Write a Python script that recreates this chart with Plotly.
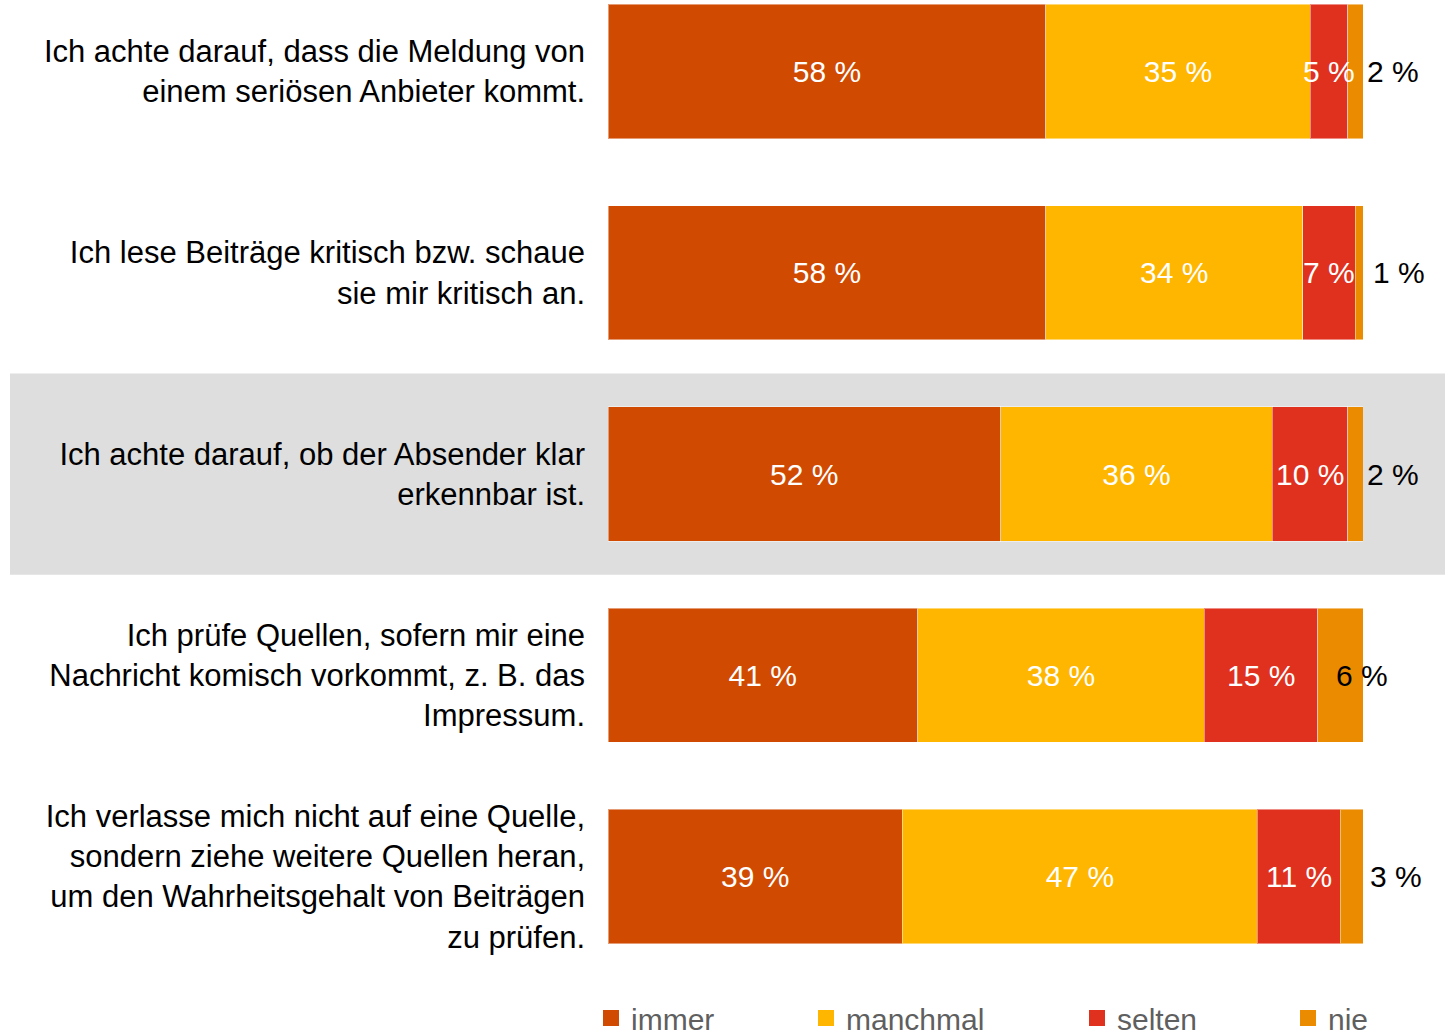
import plotly.graph_objects as go

# ---- data ----
categories = [
    "Ich achte darauf, dass die Meldung von<br>einem seriösen Anbieter kommt.",
    "Ich lese Beiträge kritisch bzw. schaue<br>sie mir kritisch an.",
    "Ich achte darauf, ob der Absender klar<br>erkennbar ist.",
    "Ich prüfe Quellen, sofern mir eine<br>Nachricht komisch vorkommt, z. B. das<br>Impressum.",
    "Ich verlasse mich nicht auf eine Quelle,<br>sondern ziehe weitere Quellen heran,<br>um den Wahrheitsgehalt von Beiträgen<br>zu prüfen.",
]
series_names = ["immer", "manchmal", "selten", "nie"]
immer = [58, 58, 52, 41, 39]
manchmal = [35, 34, 36, 38, 47]
selten = [5, 7, 10, 15, 11]
nie = [2, 1, 2, 6, 3]

# ---- style ----
colors = ["#D04A02", "#FFB600", "#E0301E", "#EB8C00"]
font_family = "Liberation Sans, Arial, sans-serif"
nie_label_shift = [2, 8, 2, -29, 5]
highlight_row = 2

positions = list(range(len(categories)))
values = [immer, manchmal, selten, nie]

fig = go.Figure()
legend_ids = ["legend", "legend2", "legend3", "legend4"]
for i, (name, vals) in enumerate(zip(series_names, values)):
    show_text = name in ("immer", "manchmal")
    fig.add_trace(go.Bar(
        y=positions, x=vals, name=name, orientation="h",
        marker=dict(color=colors[i], line=dict(color="rgba(255,255,255,0.45)", width=1)),
        width=0.666,
        text=[f"{v} %" for v in vals] if show_text else None,
        textposition="inside" if show_text else "none",
        insidetextanchor="middle",
        constraintext="none",
        textangle=0,
        textfont=dict(color="white", size=30, family=font_family),
        hoverinfo="x+name",
        legend=legend_ids[i],
        legendgroup=name,
        showlegend=False,
    ))
    # legend entry with a larger square swatch, linked to the bar trace
    fig.add_trace(go.Scatter(
        x=[None], y=[None], mode="markers", name=name,
        marker=dict(symbol="square", size=16, color=colors[i]),
        legend=legend_ids[i], legendgroup=name, showlegend=True,
        hoverinfo="skip",
    ))

# "selten" labels: centred on their segment, drawn above the bars so they may overflow
for p, a, b, v in zip(positions, immer, manchmal, selten):
    fig.add_annotation(x=a + b + v / 2, y=p, text=f"{v} %", showarrow=False,
                       xanchor="center",
                       font=dict(color="white", size=30, family=font_family))

# outside labels for "nie"
totals = [a + b + c + d for a, b, c, d in zip(immer, manchmal, selten, nie)]
for p, t, v, s in zip(positions, totals, nie, nie_label_shift):
    fig.add_annotation(x=t, y=p, text=f"{v} %", showarrow=False, xanchor="left",
                       xshift=s, font=dict(color="black", size=30, family=font_family))

# highlight band
fig.add_shape(type="rect", xref="paper", yref="y",
              x0=(10 - 608) / 755, x1=(1445 - 608) / 755,
              y0=highlight_row - 0.5, y1=highlight_row + 0.5,
              fillcolor="#DEDEDE", line=dict(width=0), layer="below")

legend_x = [(591 - 608) / 755, (806 - 608) / 755, (1077 - 608) / 755, (1288 - 608) / 755]
legend_common = dict(orientation="h", yanchor="middle", y=-58 / 960, xanchor="left",
                     bgcolor="rgba(0,0,0,0)",
                     font=dict(size=30, color="#5F5F5F", family=font_family))

fig.update_layout(
    width=1445, height=1070,
    margin=dict(l=608, r=82, t=0, b=110),
    barmode="stack",
    showlegend=True,
    paper_bgcolor="white",
    plot_bgcolor="rgba(0,0,0,0)",
    font=dict(family=font_family, size=31, color="black"),
    xaxis=dict(range=[0, 100], visible=False, fixedrange=True),
    yaxis=dict(range=[4.4149, -0.3553], tickvals=positions, ticktext=categories,
               showgrid=False, zeroline=False, showline=False, ticks="",
               ticklabelstandoff=22, tickfont=dict(size=31, color="black")),
    legend=dict(x=legend_x[0], **legend_common),
    legend2=dict(x=legend_x[1], **legend_common),
    legend3=dict(x=legend_x[2], **legend_common),
    legend4=dict(x=legend_x[3], **legend_common),
)

fig.write_html("out.html", config={"displayModeBar": False},
               post_script="document.body.style.margin='0';")
